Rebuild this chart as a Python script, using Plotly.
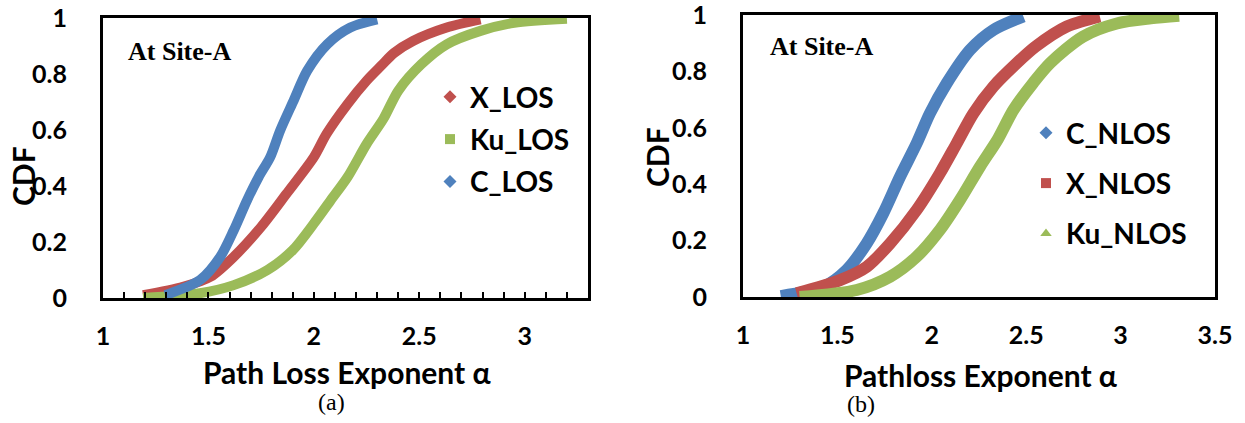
import plotly.graph_objects as go

# ---- CDF of path loss exponent, Site-A, LOS links ----
x_los_alpha = [1.19, 1.38, 1.51, 1.62, 1.75, 1.87, 2.00, 2.06, 2.16, 2.25, 2.32, 2.38, 2.47, 2.63, 2.79]
x_los_cdf = [0.01, 0.04, 0.076, 0.147, 0.254, 0.372, 0.503, 0.586, 0.693, 0.776, 0.83, 0.875, 0.918, 0.966, 0.995]

ku_los_alpha = [1.19, 1.46, 1.62, 1.78, 1.90, 2.00, 2.08, 2.16, 2.25, 2.33, 2.40, 2.51, 2.63, 2.79, 2.95, 3.20]
ku_los_cdf = [0.0, 0.017, 0.046, 0.10, 0.171, 0.266, 0.349, 0.432, 0.55, 0.64, 0.74, 0.835, 0.906, 0.954, 0.983, 0.997]

c_los_alpha = [1.295, 1.46, 1.556, 1.62, 1.683, 1.738, 1.793, 1.84, 1.904, 1.968, 2.063, 2.173, 2.30]
c_los_cdf = [0.01, 0.064, 0.147, 0.242, 0.349, 0.432, 0.503, 0.598, 0.705, 0.811, 0.906, 0.966, 0.995]

# ---- CDF of path loss exponent, Site-A, NLOS links ----
c_nlos_alpha = [1.20, 1.425, 1.549, 1.655, 1.743, 1.832, 1.92, 1.99, 2.079, 2.202, 2.326, 2.485]
c_nlos_cdf = [0.003, 0.036, 0.096, 0.19, 0.297, 0.427, 0.545, 0.651, 0.758, 0.876, 0.947, 0.995]

x_nlos_alpha = [1.284, 1.514, 1.655, 1.779, 1.92, 2.043, 2.132, 2.22, 2.326, 2.45, 2.55, 2.715, 2.89]
x_nlos_cdf = [0.013, 0.06, 0.107, 0.19, 0.309, 0.439, 0.545, 0.651, 0.746, 0.829, 0.888, 0.959, 0.995]

ku_nlos_alpha = [1.30, 1.602, 1.779, 1.92, 2.043, 2.149, 2.255, 2.35, 2.432, 2.538, 2.626, 2.80, 2.98, 3.16, 3.31]
ku_nlos_cdf = [0.0, 0.025, 0.072, 0.143, 0.238, 0.344, 0.462, 0.56, 0.663, 0.76, 0.829, 0.923, 0.97, 0.988, 0.997]

y_ticks = [0, 0.2, 0.4, 0.6, 0.8, 1]
y_tick_text = ["0", "0.2", "0.4", "0.6", "0.8", "1"]

BLUE = "#4F81BD"
RED = "#C0504D"
GREEN = "#9BBB59"
FONT = "Lato"

fig = go.Figure()


def add_series(name, xs, ys, color, symbol, xref, yref, legend, band):
    # thick smoothed band for the measured CDF
    fig.add_trace(go.Scatter(
        x=xs, y=ys, mode="lines", name=name, showlegend=False,
        line=dict(color=color, width=band, shape="spline", smoothing=0.8),
        xaxis=xref, yaxis=yref, cliponaxis=False, hoverinfo="x+y",
    ))
    # legend entry (marker only)
    fig.add_trace(go.Scatter(
        x=[None], y=[None], mode="markers", name=name, legend=legend,
        legendgroup=legend + name,
        marker=dict(color=color, symbol=symbol, size=10),
        xaxis=xref, yaxis=yref,
    ))


add_series("X_LOS", x_los_alpha, x_los_cdf, RED, "diamond", "x", "y", "legend", 10)
add_series("Ku_LOS", ku_los_alpha, ku_los_cdf, GREEN, "square", "x", "y", "legend", 10)
add_series("C_LOS", c_los_alpha, c_los_cdf, BLUE, "diamond", "x", "y", "legend", 10)

add_series("C_NLOS", c_nlos_alpha, c_nlos_cdf, BLUE, "diamond", "x2", "y2", "legend2", 12)
add_series("X_NLOS", x_nlos_alpha, x_nlos_cdf, RED, "square", "x2", "y2", "legend2", 12)
add_series("Ku_NLOS", ku_nlos_alpha, ku_nlos_cdf, GREEN, "triangle-up", "x2", "y2", "legend2", 12)

tick_font = dict(family=FONT, size=25, color="black", weight="bold")
frame = dict(showline=True, linecolor="black", linewidth=3, mirror=True, automargin=False,
             showgrid=False, zeroline=False, tickfont=tick_font, ticklabeloverflow="allow")

fig.update_layout(
    width=1245, height=423,
    margin=dict(l=0, r=0, t=0, b=0, autoexpand=False),
    paper_bgcolor="white", plot_bgcolor="white",
    xaxis=dict(domain=[103 / 1245, 588 / 1245], range=[1, 3.3], dtick=0.5, tick0=1,
               ticks="inside", ticklen=6, tickwidth=1.5, tickcolor="black", ticklabelstandoff=14,
               minor=dict(dtick=0.1, ticks="inside", ticklen=6, tickwidth=1.5, tickcolor="black"),
               anchor="y", **frame),
    yaxis=dict(domain=[(423 - 298) / 423, (423 - 18) / 423], range=[0, 1],
               tickvals=y_ticks, ticktext=y_tick_text, ticks="", ticklabelstandoff=28,
               anchor="x", **frame),
    xaxis2=dict(domain=[743 / 1245, 1215 / 1245], range=[1, 3.5], dtick=0.5, tick0=1,
                ticks="", ticklabelstandoff=14, anchor="y2", **frame),
    yaxis2=dict(domain=[(423 - 297) / 423, (423 - 15) / 423], range=[0, 1],
                tickvals=y_ticks, ticktext=y_tick_text, ticks="", ticklabelstandoff=28,
                anchor="x2", **frame),
    legend=dict(x=430 / 1245, y=(423 - 72) / 423, xanchor="left", yanchor="top",
                bgcolor="rgba(0,0,0,0)", tracegroupgap=3,
                font=dict(family=FONT, size=28, color="black", weight="bold")),
    legend2=dict(x=1026 / 1245, y=(423 - 108) / 423, xanchor="left", yanchor="top",
                 bgcolor="rgba(0,0,0,0)", tracegroupgap=11,
                 font=dict(family=FONT, size=28, color="black", weight="bold")),
)

title_font = dict(family=FONT, size=30, color="black", weight="bold")
site_font = dict(family="Liberation Serif", size=26, color="black", weight="bold")
caption_font = dict(family="Liberation Serif", size=24, color="black")

annotations = [
    dict(text="Path Loss Exponent α", x=347 / 1245, y=(423 - 372) / 423, font=title_font),
    dict(text="Pathloss Exponent α", x=980 / 1245, y=(423 - 375) / 423, font=title_font),
    dict(text="CDF", x=23 / 1245, y=(423 - 176) / 423, font=title_font, textangle=-90),
    dict(text="CDF", x=657 / 1245, y=(423 - 157) / 423, font=title_font, textangle=-90),
    dict(text="At Site-A", x=179 / 1245, y=(423 - 52) / 423, font=site_font),
    dict(text="At Site-A", x=822 / 1245, y=(423 - 46) / 423, font=site_font),
    dict(text="(a)", x=331 / 1245, y=(423 - 402) / 423, font=caption_font),
    dict(text="(b)", x=861 / 1245, y=(423 - 404) / 423, font=caption_font),
]
for a in annotations:
    fig.add_annotation(xref="paper", yref="paper", showarrow=False,
                       xanchor="center", yanchor="middle", **a)

fig.write_html("out.html")
